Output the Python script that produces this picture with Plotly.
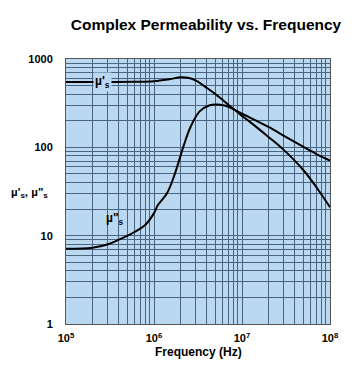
import plotly.graph_objects as go

# Data
freq_real = [1e5, 3e5, 6e5, 1e6, 1.5e6, 2e6, 2.5e6, 3e6, 4e6, 5e6, 6e6, 8e6,
             1e7, 1.2e7, 2e7, 3e7, 5e7, 7e7, 1e8]
mu_real = [550, 550, 552, 560, 590, 620, 610, 570, 470, 400, 345, 272,
           240, 220, 170, 135, 101, 84, 71]

freq_imag = [1e5, 2e5, 3e5, 4e5, 5e5, 6e5, 8e5, 1e6, 1.1e6, 1.4e6, 1.7e6, 2e6,
             2.2e6, 2.6e6, 3.3e6, 4.3e6, 5.3e6, 6.5e6, 8e6, 1e7, 1.2e7, 2e7,
             3e7, 5e7, 7.2e7, 1e8]
mu_imag = [7.1, 7.3, 8.0, 9.0, 10, 11, 13.3, 18, 22, 30, 48, 80,
           108, 170, 255, 300, 305, 295, 270, 227, 198, 131,
           93, 55, 34, 21]

x_major = [1e5, 1e6, 1e7, 1e8]
x_major_text = ["10<sup>5</sup>", "10<sup>6</sup>", "10<sup>7</sup>", "10<sup>8</sup>"]
y_major = [1, 10, 100, 1000]
y_major_text = ["1", "10", "100", "1000"]

title_text = "Complex Permeability vs. Frequency"
x_title = "Frequency (Hz)"
y_title = "µ'<sub>s</sub>, µ\"<sub>s</sub>"
label_real = "µ'<sub>s</sub>"
label_imag = "µ\"<sub>s</sub>"


def log_grid(lo_exp, hi_exp, majors, major_text):
    vals, texts = [], []
    for e in range(lo_exp, hi_exp + 1):
        for k in range(1, 10):
            v = k * 10 ** e
            if e == hi_exp and k > 1:
                break
            vals.append(v)
            texts.append("<b>" + major_text[majors.index(v)] + "</b>" if v in majors else " ")
    return vals, texts


xv, xt = log_grid(5, 8, x_major, x_major_text)
yv, yt = log_grid(0, 3, y_major, y_major_text)

bg = "#bad8ef"
grid = "#4a6482"
font = "Liberation Sans, Arial, sans-serif"

# page body has an 8px offset; plot area target on screen: x 66..330, y 59..324
W, H = 347, 357
L, T, R, B = 58, 51, 25, 41

fig = go.Figure()
fig.add_trace(go.Scatter(x=freq_real, y=mu_real, mode="lines",
                         line=dict(color="black", width=2, shape="spline", smoothing=1),
                         showlegend=False, hoverinfo="skip"))
fig.add_trace(go.Scatter(x=freq_imag, y=mu_imag, mode="lines",
                         line=dict(color="black", width=2, shape="spline", smoothing=1),
                         showlegend=False, hoverinfo="skip"))

fig.update_layout(
    width=W, height=H,
    margin=dict(l=L, r=R, t=T, b=B),
    paper_bgcolor="white", plot_bgcolor=bg,
    font=dict(family=font, color="black"),
    title=dict(text="<b>" + title_text + "</b>", x=(198 - L) / 264, xanchor="center",
               xref="paper", y=1 - 17 / H, yanchor="middle",
               font=dict(size=15.5, family=font)),
    xaxis=dict(type="log", range=[5, 8], tickvals=xv, ticktext=xt, tickangle=0,
               showgrid=True, gridcolor=grid, gridwidth=1, ticks="", zeroline=False,
               showline=True, linecolor="#555555", linewidth=1, mirror=True,
               tickfont=dict(size=11, family=font), ticklabelstandoff=4),
    yaxis=dict(type="log", range=[0, 3], tickvals=yv, ticktext=yt,
               showgrid=True, gridcolor=grid, gridwidth=1, ticks="", zeroline=False,
               showline=True, linecolor="#555555", linewidth=1, mirror=True,
               tickfont=dict(size=11, family=font), ticklabelstandoff=10),
)

fig.add_annotation(x=0.5, y=(324 - 352) / 265, xref="paper", yref="paper",
                   text="<b>" + x_title + "</b>", showarrow=False,
                   font=dict(size=12, family=font), xanchor="center", yanchor="middle")
fig.add_annotation(x=(29 - 66) / 264, y=(324 - 193) / 265, xref="paper", yref="paper",
                   text="<b>" + y_title + "</b>", showarrow=False,
                   font=dict(size=11.5, family=font), xanchor="center", yanchor="middle")
fig.add_annotation(x=5.42, y=2.74, xref="x", yref="y",
                   text="<b>" + label_real + "</b>", showarrow=False,
                   font=dict(size=12, family=font), bgcolor=bg, borderpad=1,
                   xanchor="center", yanchor="middle")
fig.add_annotation(x=5.557, y=1.193, xref="x", yref="y",
                   text="<b>" + label_imag + "</b>", showarrow=False,
                   font=dict(size=12, family=font),
                   xanchor="center", yanchor="middle")

fig.write_html("out.html")
